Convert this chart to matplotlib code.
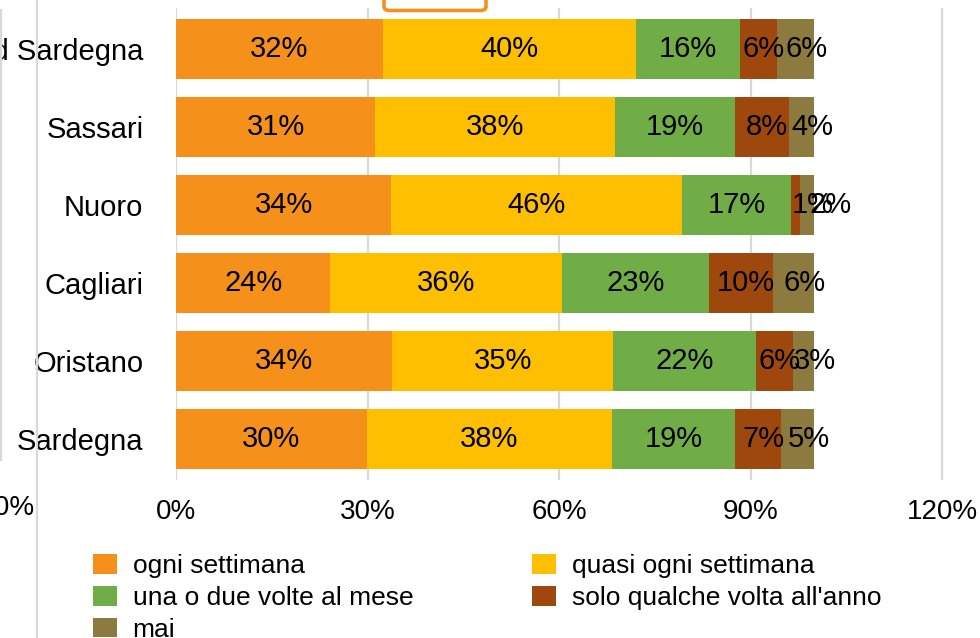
import matplotlib
matplotlib.use("Agg")
import matplotlib.pyplot as plt
from matplotlib.patches import Patch, FancyBboxPatch
from matplotlib.lines import Line2D

plt.rcParams['font.family'] = ['Liberation Sans', 'DejaVu Sans']

# ---- data (top row first) ----
categories = ["Sud Sardegna", "Sassari", "Nuoro", "Cagliari", "Oristano", "Sardegna"]
ogni_settimana = [32.4, 31.2, 33.7, 24.2, 33.9, 29.9]
quasi_ogni_settimana = [39.7, 37.6, 45.6, 36.3, 34.6, 38.4]
una_o_due_volte = [16.3, 18.8, 17.1, 23.0, 22.4, 19.3]
qualche_volta_anno = [5.8, 8.4, 1.4, 10.1, 5.8, 7.2]
mai = [5.8, 4.0, 2.2, 6.4, 3.3, 5.2]
series_names = ["ogni settimana", "quasi ogni settimana", "una o due volte al mese",
                "solo qualche volta all'anno", "mai"]
xticks = [0, 30, 60, 90, 120]

series = [ogni_settimana, quasi_ogni_settimana, una_o_due_volte, qualche_volta_anno, mai]
colors = ["#F5911A", "#FEBF00", "#70AD47", "#9E480E", "#8C7A3E"]
label_offsets_px = [0, 0, 0, 5, 11]

W, H = 980, 638
def fx(px): return px / W
def fy(py): return 1 - py / H

fig = plt.figure(figsize=(9.8, 6.38), dpi=100)
px_per_30 = 191.5
xmax = (W - 176) / px_per_30 * 30
ax = fig.add_axes([fx(176), fy(480), (W - 176) / W, (480 - 8) / H])

n = len(categories)
ypos = list(range(n - 1, -1, -1))
lefts = [0.0] * n
for vals, col, off in zip(series, colors, label_offsets_px):
    ax.barh(ypos, vals, left=lefts, height=0.77, color=col, zorder=2)
    for y, l, v in zip(ypos, lefts, vals):
        extra = 12 if v < 3 else 0
        ax.annotate(f"{v:.0f}%", (l + v / 2, y), xytext=(off + extra, 0), textcoords='offset pixels',
                    ha='center', va='center', fontsize=21, color='black', zorder=3)
    lefts = [a + b for a, b in zip(lefts, vals)]

ax.set_xlim(0, xmax)
ax.set_ylim(-0.525, n - 1 + 0.52)
ax.set_xticks(xticks)
ax.set_xticklabels([f"{t}%" for t in xticks], fontsize=20)
ax.set_yticks(ypos)
ax.set_yticklabels(categories, fontsize=21)
ax.tick_params(axis='x', length=0, pad=14)
ax.tick_params(axis='y', length=0, pad=23.5)
for s in ax.spines.values():
    s.set_visible(False)
ax.grid(axis='x', color='#D9D9D9', linewidth=1.6, zorder=0)
ax.set_axisbelow(True)

# decorations from neighbouring panel / selection box
fig.add_artist(Line2D([fx(37), fx(37)], [0, 1], color='#D9D9D9', lw=1.6, zorder=5))
fig.add_artist(Line2D([fx(0.8), fx(0.8)], [fy(460), fy(10)], color='#D9D9D9', lw=1.6))
fig.text(fx(35), fy(508), "120%", ha='right', va='center', fontsize=20)
box = FancyBboxPatch((fx(384), fy(10.5)), fx(486) - fx(384), fy(-30) - fy(10.5),
                     boxstyle="round,pad=0,rounding_size=0.006", transform=fig.transFigure,
                     facecolor='white', edgecolor='#F5911A', linewidth=2.6)
fig.add_artist(box)

# legend
order = [0, 2, 4, 1, 3]
handles = [Patch(facecolor=colors[i], edgecolor='none') for i in order]
labels = [series_names[i] for i in order]
fig.legend(handles, labels, loc='upper left', bbox_to_anchor=(fx(93), fy(554)), ncol=2,
           frameon=False, fontsize=19, handlelength=0.92, handleheight=0.78,
           handletextpad=0.58, columnspacing=4.5, labelspacing=0.29, borderpad=0,
           borderaxespad=0)

fig.savefig("out.png", dpi=100)
